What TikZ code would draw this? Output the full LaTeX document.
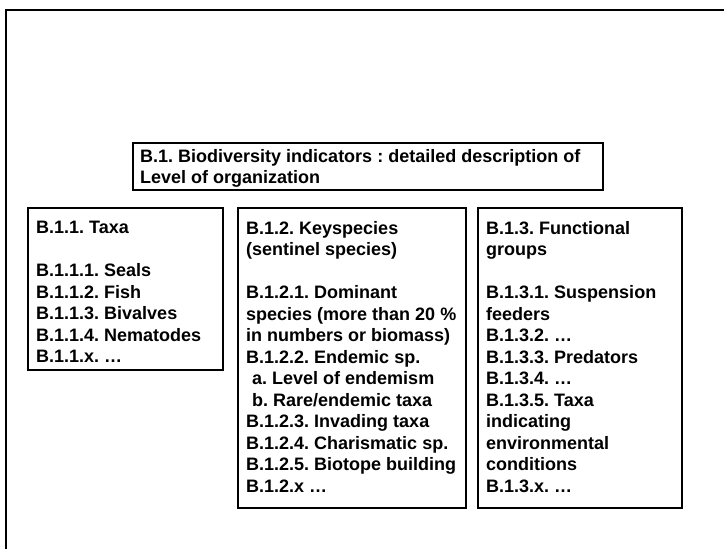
\documentclass[tikz,border=0pt]{standalone}
\usepackage{fontspec}
\setmainfont{Liberation Sans}
\usetikzlibrary{shadows}
\begin{document}
\frenchspacing
\begin{tikzpicture}[x=1pt,y=-1pt,
  boxframe/.style={draw, line width=1.4pt, fill=white,
    drop shadow={shadow xshift=1.4pt, shadow yshift=-1.4pt, fill=gray!80, opacity=1}},
  boxtext/.style={anchor=north west, align=left, inner sep=0pt,
    font=\fontsize{18}{21.5}\selectfont\bfseries}]
\useasboundingbox (0,0) rectangle (724,549);
% outer frame (only top and left edges visible)
\coordinate (frameTR) at (726,10);
\coordinate (frameTL) at (6,10);
\coordinate (frameBL) at (6,551);
\draw[line width=1.4pt] (frameTR) -- (frameTL) -- (frameBL);
% title
\path[boxframe] (133,143) rectangle (603,190);
\node[boxtext] (title) at (140,149) {B.1. Biodiversity indicators : detailed description of\\Level of organization};
% box 1
\path[boxframe] (28,208) rectangle (223,370);
\node[boxtext] (taxa) at (36,221) {B.1.1. Taxa\\[21.5pt]
B.1.1.1. Seals\\
B.1.1.2. Fish\\
B.1.1.3. Bivalves\\
B.1.1.4. Nematodes\\
B.1.1.x. \dots};
% box 2
\path[boxframe] (238,208) rectangle (466,508);
\node[boxtext] (keysp) at (246,221) {B.1.2. Keyspecies\\
(sentinel species)\\[21.5pt]
B.1.2.1. Dominant\\
species (more than 20 \%\\
in numbers or biomass)\\
B.1.2.2. Endemic sp.\\
\hspace{6pt}a. Level of endemism\\
\hspace{6pt}b. Rare/endemic taxa\\
B.1.2.3. Invading taxa\\
B.1.2.4. Charismatic sp.\\
B.1.2.5. Biotope building\\
B.1.2.x \dots};
% box 3
\path[boxframe] (478,208) rectangle (682,508);
\node[boxtext] (funct) at (486,221) {B.1.3. Functional\\
groups\\[21.5pt]
B.1.3.1. Suspension\\
feeders\\
B.1.3.2. \dots\\
B.1.3.3. Predators\\
B.1.3.4. \dots\\
B.1.3.5. Taxa\\
indicating\\
environmental\\
conditions\\
B.1.3.x. \dots};
\end{tikzpicture}
\end{document}
